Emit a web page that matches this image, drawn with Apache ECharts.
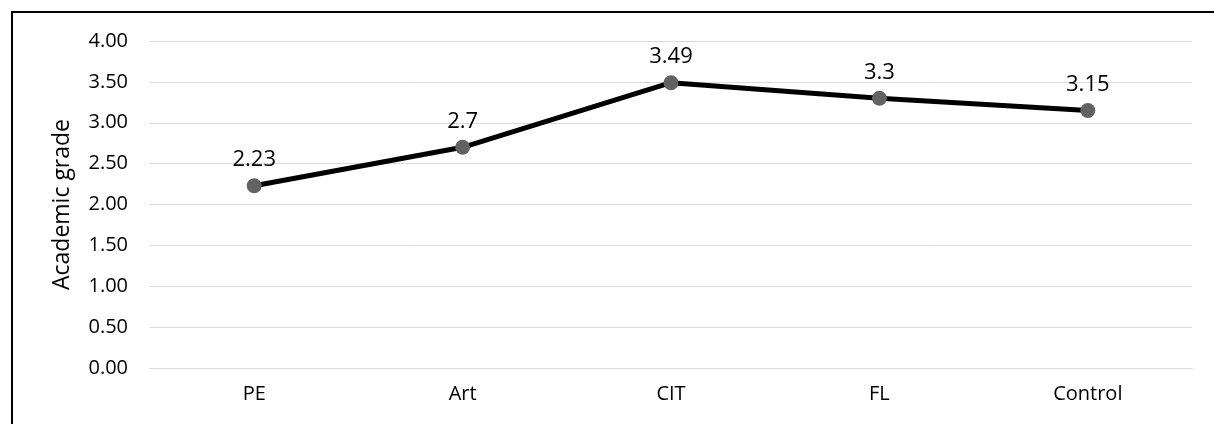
<!DOCTYPE html>
<html>
<head>
<meta charset="utf-8">
<script src="https://cdn.jsdelivr.net/npm/echarts@6/dist/echarts.min.js"></script>
<style>
  html, body { margin: 0; padding: 0; background: #fff; }
  #frame { position: absolute; left: 11px; top: 11px; width: 1203px; height: 413px; border-left: 2px solid #000; border-top: 2px solid #000; box-sizing: border-box; }
  #main { position: absolute; left: 0; top: 0; width: 1214px; height: 424px; }
</style>
</head>
<body>
<div id="frame"></div>
<div id="main"></div>
<script>
const groups = ['PE', 'Art', 'CIT', 'FL', 'Control'];
const grades = [2.23, 2.7, 3.49, 3.3, 3.15];
const yTicks = { min: 0, max: 4, step: 0.5 };

const font = '"Open Sans", sans-serif';
const chart = echarts.init(document.getElementById('main'));
chart.setOption({
    animation: false,
    grid: { left: 150, right: 22, top: 41, bottom: 56 },
    xAxis: {
        type: 'category', data: groups, boundaryGap: true,
        axisLine: { lineStyle: { color: '#d9d9d9', width: 1 } },
        axisTick: { show: false },
        axisLabel: { color: '#000', fontFamily: font, fontSize: 20, margin: 16 }
    },
    yAxis: {
        type: 'value', min: yTicks.min, max: yTicks.max, interval: yTicks.step,
        name: 'Academic grade', nameLocation: 'middle', nameGap: 76, nameRotate: 90,
        nameTextStyle: { color: '#000', fontFamily: font, fontSize: 23 },
        axisLine: { show: false }, axisTick: { show: false },
        splitLine: { lineStyle: { color: '#d9d9d9', width: 1 } },
        axisLabel: { color: '#000', fontFamily: font, fontSize: 20, margin: 22, formatter: v => v.toFixed(2) }
    },
    series: [{
        type: 'line', data: grades,
        lineStyle: { color: '#000', width: 5 },
        symbol: 'circle', symbolSize: 15,
        itemStyle: { color: '#626262' },
        label: { show: true, position: 'top', distance: 7, color: '#000', fontFamily: font, fontSize: 22 }
    }]
});
</script>
</body>
</html>
